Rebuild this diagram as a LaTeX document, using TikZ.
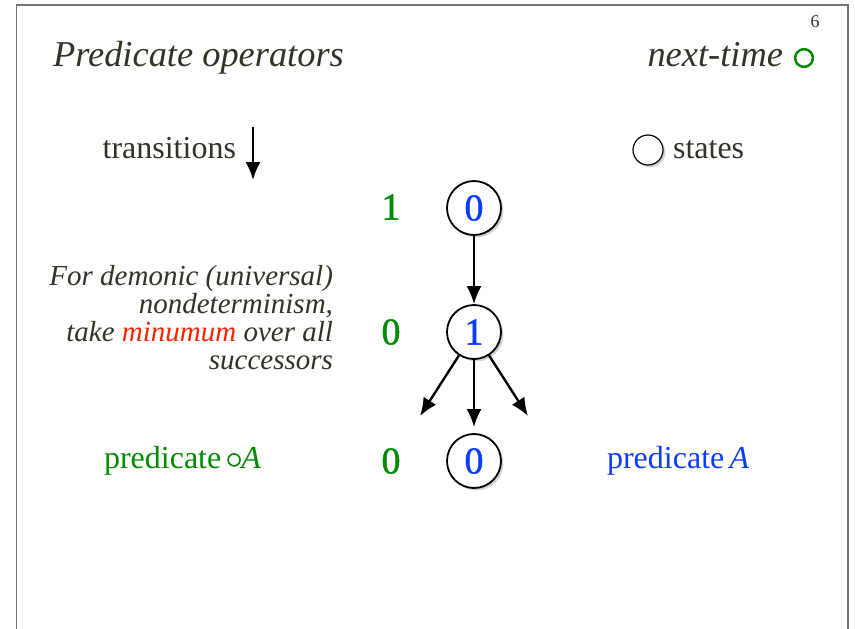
\documentclass[tikz,border=0pt]{standalone}
\usepackage{fontspec}
\setmainfont{Liberation Serif}
\newfontfamily\ringfont[FakeBold=3.5]{DejaVu Sans}
\newfontfamily\digitfont[FakeBold=1.2]{Liberation Serif}
\usetikzlibrary{arrows.meta,shadows}

\definecolor{inkdark}{RGB}{50,50,38}
\definecolor{predgreen}{RGB}{0,140,0}
\definecolor{predblue}{RGB}{10,60,255}
\definecolor{minred}{RGB}{250,35,0}
\definecolor{framegray}{RGB}{115,115,115}

\tikzset{
  state/.style={circle,draw,line width=0.9pt,fill=white,minimum size=27pt,inner sep=0pt,
    drop shadow={opacity=.35,shadow xshift=1.2pt,shadow yshift=-1.2pt},
    text=predblue,font=\digitfont\fontsize{19}{19}\selectfont},
  val/.style={text=predgreen,font=\digitfont\fontsize{19}{19}\selectfont},
  trans/.style={-{Latex[length=9pt,width=7.5pt]},line width=1.2pt},
  body/.style={text=inkdark,font=\fontsize{16}{18}\selectfont},
}

\begin{document}
\begin{tikzpicture}[x=0.5pt,y=-0.5pt]
\useasboundingbox (0,0) rectangle (855,628);
\clip (0,0) rectangle (855,628);
\draw[framegray,line width=0.8pt] (16.5,660) -- (16.5,5) -- (848,5) -- (848,660);

% heading
\node[anchor=base west,text=inkdark,font=\fontsize{18.2}{19}\selectfont\itshape] (title) at (46,66) {Predicate operators};
\node[anchor=base east,text=inkdark,font=\fontsize{18.2}{19}\selectfont\itshape] (nexttime) at (790,66) {next-time};
\node[text=predgreen,font=\ringfont\fontsize{12.5}{12}\selectfont,inner sep=0pt] (nextsym) at (804,58) {○};
\node[text=inkdark,font=\fontsize{9}{9}\selectfont] (page) at (815,22) {6};

% legend
\node[body,anchor=east] (translabel) at (243,148) {transitions};
\coordinate (ta) at (253,127);
\coordinate (tb) at (253,180);
\draw[trans] (ta) -- (tb);
\node[state,minimum size=15pt,line width=0.6pt] (legstate) at (648,150) {};
\node[body,anchor=west] (statelabel) at (666,150) {states};

% the tree of states
\node[state] (s0) at (474,208) {0};
\node[state] (s1) at (474,332) {1};
\node[state] (s2) at (474,461) {0};
\node[val] (v0) at (391,207) {1};
\node[val] (v1) at (391,332) {0};
\node[val] (v2) at (391,461) {0};
\coordinate (sl) at (420,416);
\coordinate (sr) at (528,416);
\draw[trans] (s0) -- (s1);
\draw[trans] (s1) -- (sl);
\draw[trans,shorten >=3pt] (s1) -- (s2);
\draw[trans] (s1) -- (sr);

% explanation
\node[anchor=east,align=right,text=inkdark,font=\fontsize{14.5}{14}\selectfont\itshape] (note) at (340,318)
  {For demonic (universal)\\ nondeterminism,\\ take \textcolor{minred}{minumum} over all\\ successors};

% predicates
\node[anchor=west,text=predgreen,font=\fontsize{16}{18}\selectfont] (nextpred) at (97,461)
  {predicate\,\raisebox{2.2pt}{\ringfont\fontsize{8.5}{8}\selectfont ○}\textit{A}};
\node[anchor=west,text=predblue,font=\fontsize{16}{18}\selectfont] (pred) at (600,461)
  {predicate\,\textit{A}};
\end{tikzpicture}
\end{document}
